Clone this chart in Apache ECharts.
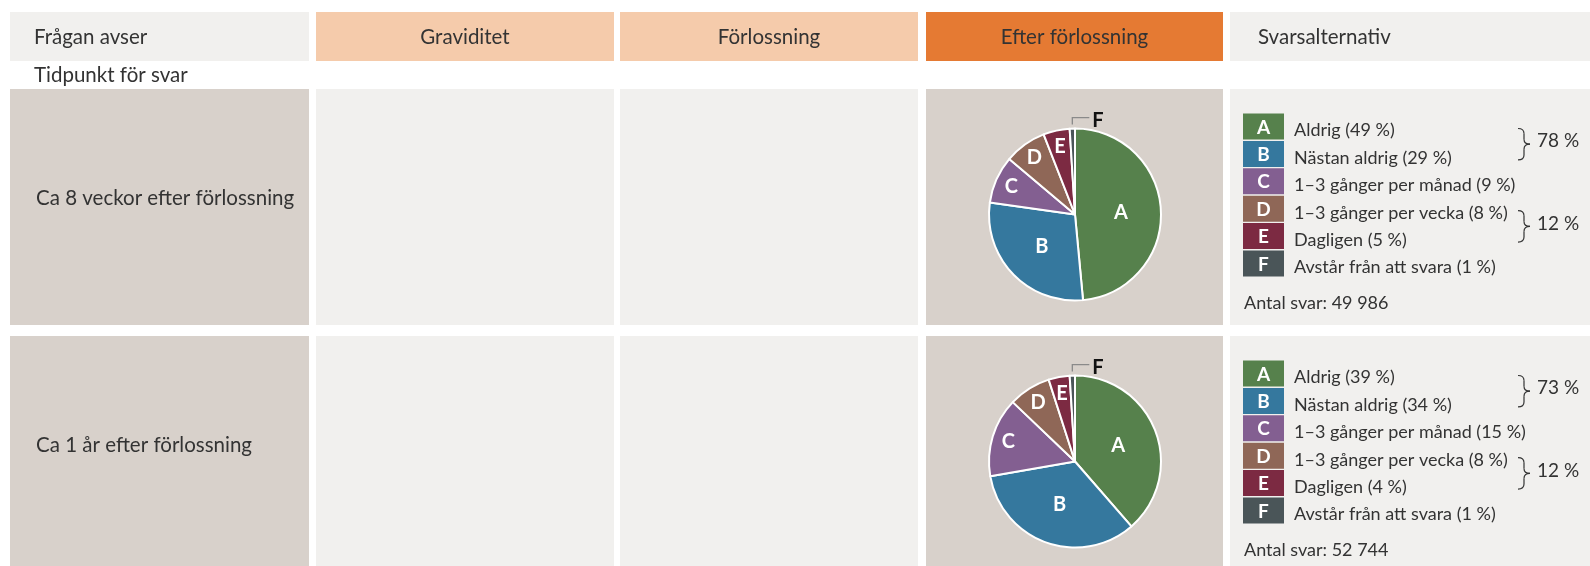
<!DOCTYPE html>
<html>
<head>
<meta charset="utf-8">
<script src="https://cdn.jsdelivr.net/npm/echarts@6/dist/echarts.min.js"></script>
<style>
html,body{margin:0;padding:0;background:#fff;}
#chart{width:1590px;height:566px;}
</style>
</head>
<body>
<div id="chart"></div>
<script>
// ---------- data ----------
const phases = ['Graviditet', 'Förlossning', 'Efter förlossning'];
const headerLeft = 'Frågan avser';
const headerRight = 'Svarsalternativ';
const subHeader = 'Tidpunkt för svar';
const timepoints = ['Ca 8 veckor efter förlossning', 'Ca 1 år efter förlossning'];
const categories = ['A', 'B', 'C', 'D', 'E', 'F'];
const answerLabels = ['Aldrig', 'Nästan aldrig', '1–3 gånger per månad', '1–3 gånger per vecka', 'Dagligen', 'Avstår från att svara'];
const values8w = [49, 29, 9, 8, 5, 1];
const values1y = [39, 34, 15, 8, 4, 1];
const groupRows = [[0, 1], [3, 4]];
const groupTotals8w = [78, 12];
const groupTotals1y = [73, 12];
const answerCounts = ['49 986', '52 744'];

// ---------- styles / layout ----------
const FONT = 'Lato, "Open Sans", sans-serif';
const TXT = '#333333';
const sliceColors = ['#56814c', '#35789e', '#835f91', '#8f6757', '#7c2a42', '#4a5558'];
const C_LIGHT = '#f1f0ee', C_WARM = '#d8d1cb', C_PEACH = '#f5cbab', C_ORANGE = '#e57a33';
const COLS = [[10, 309], [316, 614], [620, 918], [926, 1223], [1230, 1590]];
const HEAD = [12, 61];
const ROWS = [[89, 325], [336, 572]];
const PIE_R = 86, PIE_CX = 1075, PIE_DY = 125.5;
const LEG = {sx: 1243, sw: 41, sh: 26, top: 24.5, pitch: 27.4, tx: 1294, braceX: 1518, totX: 1537, countDy: 214};

const seriesValues = [values8w, values1y];
const seriesTotals = [groupTotals8w, groupTotals1y];

const graphic = [];
function rect(x0, y0, x1, y1, fill) {
  graphic.push({type: 'rect', silent: true, z: 0, shape: {x: x0, y: y0, width: x1 - x0, height: y1 - y0}, style: {fill: fill}});
}
function text(x, y, t, opt) {
  opt = opt || {};
  graphic.push({type: 'text', silent: true, z: 5, x: x, y: y, style: {
    text: t, fill: opt.fill || TXT, fontSize: opt.size || 20.5, fontFamily: FONT,
    fontWeight: opt.weight || 'normal', align: opt.align || 'left', verticalAlign: 'middle'}});
}
function curve(x1, y1, cx, cy, x2, y2) {
  graphic.push({type: 'bezierCurve', silent: true, z: 5,
    shape: {x1: x1, y1: y1, x2: x2, y2: y2, cpx1: cx, cpy1: cy},
    style: {stroke: TXT, lineWidth: 1.2, fill: null}});
}
function seg(x1, y1, x2, y2) {
  graphic.push({type: 'line', silent: true, z: 5, shape: {x1: x1, y1: y1, x2: x2, y2: y2},
    style: {stroke: TXT, lineWidth: 1.2}});
}
function brace(x, yt, yb) {
  const ym = (yt + yb) / 2, w = 12, h = 5;
  curve(x, yt, x + w / 2, yt, x + w / 2, yt + h);
  seg(x + w / 2, yt + h, x + w / 2, ym - h);
  curve(x + w / 2, ym - h, x + w / 2, ym, x + w, ym);
  curve(x + w, ym, x + w / 2, ym, x + w / 2, ym + h);
  seg(x + w / 2, ym + h, x + w / 2, yb - h);
  curve(x + w / 2, yb - h, x + w / 2, yb, x, yb);
}

// header row
const headFills = [C_LIGHT, C_PEACH, C_PEACH, C_ORANGE, C_LIGHT];
COLS.forEach((c, i) => rect(c[0], HEAD[0], c[1], HEAD[1], headFills[i]));
text(34, 37, headerLeft);
phases.forEach((p, i) => text((COLS[i + 1][0] + COLS[i + 1][1]) / 2, 37, p, {align: 'center'}));
text(1258, 37, headerRight);
text(34, 75, subHeader);

// body rows
const rowFills = [C_WARM, C_LIGHT, C_LIGHT, C_WARM, C_LIGHT];
ROWS.forEach((r, ri) => {
  COLS.forEach((c, i) => rect(c[0], r[0], c[1], r[1], rowFills[i]));
  text(36, r[0] + 109, timepoints[ri]);
  const vals = seriesValues[ri];
  categories.forEach((cat, k) => {
    const sy = r[0] + LEG.top + k * LEG.pitch;
    rect(LEG.sx, sy, LEG.sx + LEG.sw, sy + LEG.sh, sliceColors[k]);
    text(LEG.sx + LEG.sw / 2, sy + LEG.sh / 2 + 1, cat, {fill: '#ffffff', size: 19, weight: 'bold', align: 'center'});
    text(LEG.tx, sy + LEG.sh / 2 + 4, answerLabels[k] + ' (' + vals[k] + ' %)', {size: 18});
  });
  groupRows.forEach((g, gi) => {
    const c0 = r[0] + LEG.top + g[0] * LEG.pitch + LEG.sh / 2 + 2;
    const c1 = r[0] + LEG.top + g[1] * LEG.pitch + LEG.sh / 2 + 6;
    brace(LEG.braceX, c0, c1);
    text(LEG.totX, (c0 + c1) / 2 - 3, seriesTotals[ri][gi] + ' %', {size: 19});
  });
  text(1244, r[0] + LEG.countDy, 'Antal svar: ' + answerCounts[ri], {size: 18});
});

// ---------- pies ----------
function fLabelLayout(p) {
  if (p.dataIndex !== 5 || !p.labelLinePoints) return {};
  const pts = p.labelLinePoints;
  const p1 = [pts[0][0], pts[1][1]];
  const p0 = [pts[0][0], pts[0][1] - 4];
  const len2 = Math.abs(pts[2][0] - pts[1][0]);
  const p2 = [p1[0] + len2, p1[1]];
  return {x: p2[0] + 3, y: p1[1] + 3, align: 'left', verticalAlign: 'middle', labelLinePoints: [p0, p1, p2]};
}

const series = [];
seriesValues.forEach((vals, ri) => {
  const center = [PIE_CX, ROWS[ri][0] + PIE_DY];
  series.push({
    type: 'pie', center: center, radius: [0, PIE_R], startAngle: 90, clockwise: true,
    avoidLabelOverlap: false, silent: true, animation: false, z: 3,
    itemStyle: {borderColor: '#ffffff', borderWidth: 2},
    label: {show: true, position: 'inside', color: '#ffffff', fontWeight: 'bold', fontSize: 20, fontFamily: FONT, formatter: '{b}'},
    labelLine: {show: false},
    labelLayout: fLabelLayout,
    data: categories.map((c, k) => {
      const d = {name: c, value: vals[k], itemStyle: {color: sliceColors[k]}};
      if (k >= 2 && k <= 4) d.label = {show: false};
      if (k === 5) {
        d.label = {show: true, position: 'outside', color: '#111111', fontSize: 20, fontWeight: 'bold'};
        d.labelLine = {show: true, length: 11, length2: 17, smooth: false, lineStyle: {color: '#8a8a8a', width: 1.3}};
      }
      return d;
    })
  });
  // label-only overlay ring placing C, D, E labels further out
  series.push({
    type: 'pie', center: center, radius: [PIE_R * 0.55, PIE_R], startAngle: 90, clockwise: true,
    avoidLabelOverlap: false, silent: true, animation: false, z: 4,
    itemStyle: {color: 'transparent', borderWidth: 0},
    emphasis: {disabled: true},
    label: {show: true, position: 'inside', color: '#ffffff', fontWeight: 'bold', fontSize: 20, fontFamily: FONT, formatter: '{b}'},
    labelLine: {show: false},
    data: categories.map((c, k) => ({name: c, value: vals[k], label: {show: k >= 2 && k <= 4}}))
  });
});

const chart = echarts.init(document.getElementById('chart'), null, {renderer: 'canvas'});
chart.setOption({
  animation: false,
  backgroundColor: '#ffffff',
  graphic: graphic,
  series: series
});
</script>
</body>
</html>
